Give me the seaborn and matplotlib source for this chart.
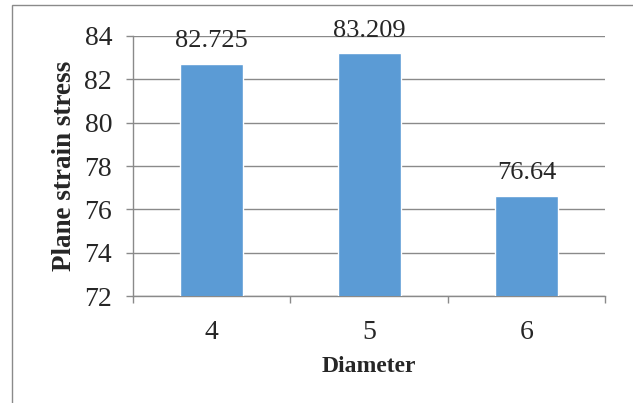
import matplotlib
matplotlib.use("Agg")
import matplotlib.pyplot as plt
import seaborn as sns
from matplotlib.patches import Rectangle
from matplotlib.ticker import FixedLocator

# data
diameters = ["4", "5", "6"]
stress = [82.725, 83.209, 76.64]
value_labels = ["82.725", "83.209", "76.64"]
y_ticks = [72, 74, 76, 78, 80, 82, 84]

sns.set_style("white")
plt.rcParams["font.family"] = ["Liberation Serif", "DejaVu Serif"]

fig = plt.figure(figsize=(6.33, 4.03), dpi=100)
ax = fig.add_axes([0.210, 0.265, 0.746, 0.646])

sns.barplot(x=diameters, y=stress, order=diameters, color="#5B9BD5",
            width=0.4, saturation=1, ax=ax, zorder=3)

ax.set_ylim(72, 84)
ax.set_xlim(-0.5, 2.5)
ax.set_yticks(y_ticks)
ax.set_yticklabels([str(t) for t in y_ticks])
ax.yaxis.grid(True, color="#8a8a8a", linewidth=1)
ax.set_axisbelow(True)

for side in ["top", "right"]:
    ax.spines[side].set_visible(False)
for side in ["left", "bottom"]:
    ax.spines[side].set_color("#8a8a8a")
    ax.spines[side].set_linewidth(1)

ax.tick_params(axis="y", length=5, color="#8a8a8a", width=1, pad=10, labelsize=20, left=True)
ax.tick_params(axis="x", which="major", length=0, pad=17, labelsize=20)
ax.xaxis.set_minor_locator(FixedLocator([-0.5, 0.5, 1.5, 2.5]))
ax.tick_params(axis="x", which="minor", length=5, color="#8a8a8a", width=1, bottom=True)

ax.set_xlabel("Diameter", fontsize=17, fontweight="bold", labelpad=8)
ax.set_ylabel("Plane strain stress", fontsize=19.5, fontweight="bold", labelpad=5)

for i, (v, lab) in enumerate(zip(stress, value_labels)):
    ax.annotate(lab, (i, v), xytext=(0, 8), textcoords="offset points",
                ha="center", va="bottom", fontsize=19, clip_on=False)

# outer chart border (only top and left fall inside the crop)
fig.patches.append(Rectangle((12 / 633, -0.1), 1.2, 1 - 5 / 403 + 0.1,
                             transform=fig.transFigure, fill=False,
                             edgecolor="#8a8a8a", linewidth=1))

fig.savefig("out.png", dpi=100)
